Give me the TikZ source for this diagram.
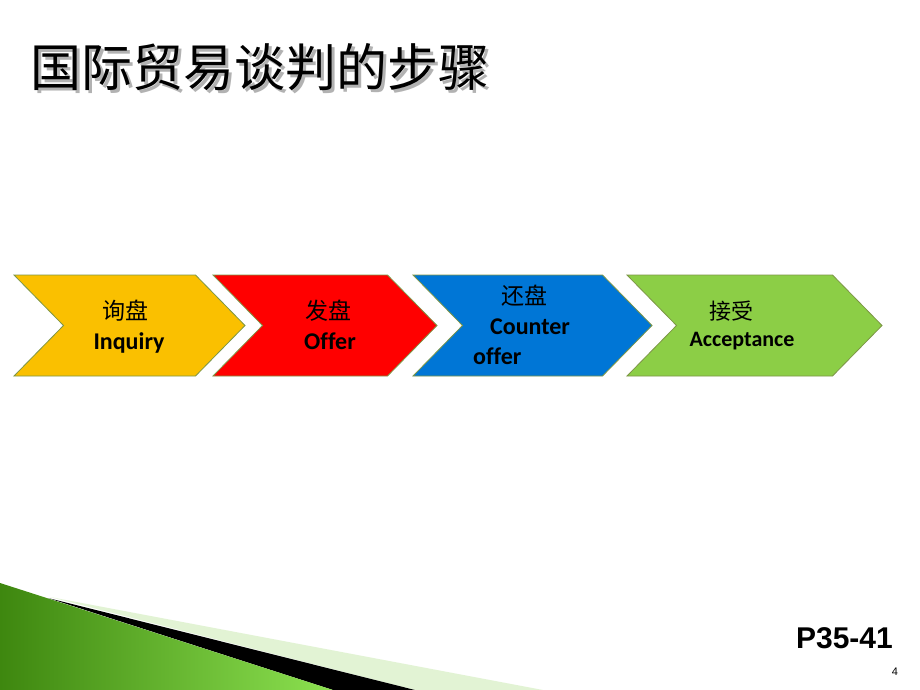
\documentclass[tikz,border=0pt]{standalone}
\usepackage{fontspec}
\setmainfont{Carlito}[Ligatures=NoCommon]
\newfontfamily\cjk{Noto Sans CJK SC}
\newfontfamily\arial{Liberation Sans}
\definecolor{stepYellow}{RGB}{250,192,0}
\definecolor{stepRed}{RGB}{255,0,0}
\definecolor{stepBlue}{RGB}{0,118,214}
\definecolor{stepGreen}{RGB}{140,206,70}
\definecolor{stepEdge}{RGB}{125,150,70}
\definecolor{leafDark}{RGB}{62,135,15}
\definecolor{leafLight}{RGB}{140,225,80}
\definecolor{leafPale}{RGB}{226,243,212}
\def\steps{{14/245/stepYellow}, {213/437/stepRed}, {413/652/stepBlue}, {627/882/stepGreen}}
\tikzstyle{step shape}=[draw=stepEdge, line width=0.8pt]
\tikzstyle{cn label}=[font=\cjk\fontsize{23}{26}\selectfont, inner sep=0pt]
\tikzstyle{en label}=[font=\bfseries\fontsize{24}{27}\selectfont, inner sep=0pt, anchor=base]

\begin{document}
\begin{tikzpicture}[x=1pt, y=-1pt]
  \useasboundingbox[fill=white] (0,0) rectangle (920,690);

  % Title with its shadow
  \node[font=\cjk\fontsize{51}{56}\selectfont, text=black!30, anchor=west, inner sep=0pt] (titleShadow) at (33,70.5) {国际贸易谈判的步骤};
  \node[font=\cjk\fontsize{51}{56}\selectfont, anchor=west, inner sep=0pt] (title) at (30,67.5) {国际贸易谈判的步骤};

  % The four steps as chevrons
  \foreach \left/\tip/\col in \steps {
    \path[step shape, fill=\col] (\left,275) -- ({\tip-49.5},275) -- (\tip,325.5)
      -- ({\tip-49.5},376) -- (\left,376) -- ({\left+49.5},325.5) -- cycle;
  }

  \node[cn label] (inquiryCn) at (125,311) {询盘};
  \node[en label] (inquiryEn) at (129,349) {Inquiry};
  \node[cn label] (offerCn) at (328,311) {发盘};
  \node[en label] (offerEn) at (330,349) {Offer};
  \node[cn label] (counterCn) at (524,296) {还盘};
  \node[en label, anchor=base west] (counterEn) at (490,334) {Counter};
  \node[en label, anchor=base west] (counterEnB) at (473,364) {offer};
  \node[cn label, font=\cjk\fontsize{22}{25}\selectfont] (acceptCn) at (731,311) {接受};
  \node[en label, font=\bfseries\fontsize{22}{25}\selectfont] (acceptEn) at (742,346) {Acceptance};

  % Corner decoration
  \fill[leafPale] (50,597) -- (543,690) -- (415,690) -- cycle;
  \fill[black] (48,598) -- (415,690) -- (333,690) -- cycle;
  \shade[left color=leafDark, right color=leafLight] (0,583) -- (333,690) -- (0,690) -- cycle;

  % Page references
  \node[font=\arial\bfseries\fontsize{30}{34}\selectfont, anchor=base east, inner sep=0pt] (pages) at (893,648) {P35-41};
  \node[font=\arial\fontsize{11}{13}\selectfont, anchor=base, inner sep=0pt] (pageNo) at (895,675) {4};
\end{tikzpicture}
\end{document}
